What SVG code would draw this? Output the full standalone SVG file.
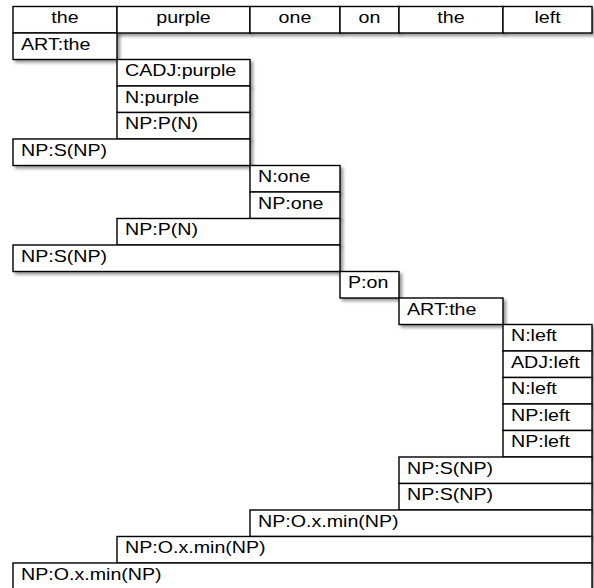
<svg xmlns="http://www.w3.org/2000/svg" width="594" height="588" viewBox="0 0 594 588">
<defs>
<filter id="sh" x="-10%" y="-30%" width="130%" height="180%">
<feDropShadow dx="2.5" dy="2.5" stdDeviation="1.6" flood-color="#000" flood-opacity="0.4"/>
</filter>
<style>
.b{fill:#fff;stroke:#000;stroke-width:1.4;filter:url(#sh)}
.t{font-family:"Liberation Sans",Arial,sans-serif;font-size:16.5px;fill:#000}
.c{text-anchor:middle}
</style>
</defs>
<rect width="594" height="588" fill="#fff"/>
<g id="header">
<g id="h1"><rect class="b" x="13" y="6.5" width="104" height="26.5"/><text class="t c" transform="translate(65,23.3) scale(1.19,1)">the</text></g>
<g id="h2"><rect class="b" x="117" y="6.5" width="133" height="26.5"/><text class="t c" transform="translate(183.5,23.3) scale(1.19,1)">purple</text></g>
<g id="h3"><rect class="b" x="250" y="6.5" width="90" height="26.5"/><text class="t c" transform="translate(295,23.3) scale(1.19,1)">one</text></g>
<g id="h4"><rect class="b" x="340" y="6.5" width="59" height="26.5"/><text class="t c" transform="translate(369.5,23.3) scale(1.19,1)">on</text></g>
<g id="h5"><rect class="b" x="399" y="6.5" width="104" height="26.5"/><text class="t c" transform="translate(451,23.3) scale(1.19,1)">the</text></g>
<g id="h6"><rect class="b" x="503" y="6.5" width="89" height="26.5"/><text class="t c" transform="translate(547.5,23.3) scale(1.19,1)">left</text></g>
</g>
<g id="n1"><rect class="b" x="13" y="33" width="104" height="26.5"/><text class="t" transform="translate(21,49.5) scale(1.19,1)">ART:the</text></g>
<g id="n2"><rect class="b" x="117" y="59.5" width="133" height="26.5"/><text class="t" transform="translate(125,76) scale(1.19,1)">CADJ:purple</text></g>
<g id="n3"><rect class="b" x="117" y="86" width="133" height="26.5"/><text class="t" transform="translate(125,102.5) scale(1.19,1)">N:purple</text></g>
<g id="n4"><rect class="b" x="117" y="112.5" width="133" height="26.5"/><text class="t" transform="translate(125,129) scale(1.19,1)">NP:P(N)</text></g>
<g id="n5"><rect class="b" x="13" y="139" width="237" height="26.5"/><text class="t" transform="translate(21,155.5) scale(1.19,1)">NP:S(NP)</text></g>
<g id="n6"><rect class="b" x="250" y="165.5" width="90" height="26.5"/><text class="t" transform="translate(258,182) scale(1.19,1)">N:one</text></g>
<g id="n7"><rect class="b" x="250" y="192" width="90" height="26.5"/><text class="t" transform="translate(258,208.5) scale(1.19,1)">NP:one</text></g>
<g id="n8"><rect class="b" x="117" y="218.5" width="223" height="26.5"/><text class="t" transform="translate(125,235) scale(1.19,1)">NP:P(N)</text></g>
<g id="n9"><rect class="b" x="13" y="245" width="327" height="26.5"/><text class="t" transform="translate(21,261.5) scale(1.19,1)">NP:S(NP)</text></g>
<g id="n10"><rect class="b" x="340" y="271.5" width="59" height="26.5"/><text class="t" transform="translate(348,288) scale(1.19,1)">P:on</text></g>
<g id="n11"><rect class="b" x="399" y="298" width="104" height="26.5"/><text class="t" transform="translate(407,314.5) scale(1.19,1)">ART:the</text></g>
<g id="n12"><rect class="b" x="503" y="324.5" width="89" height="26.5"/><text class="t" transform="translate(511,341) scale(1.19,1)">N:left</text></g>
<g id="n13"><rect class="b" x="503" y="351" width="89" height="26.5"/><text class="t" transform="translate(511,367.5) scale(1.19,1)">ADJ:left</text></g>
<g id="n14"><rect class="b" x="503" y="377.5" width="89" height="26.5"/><text class="t" transform="translate(511,394) scale(1.19,1)">N:left</text></g>
<g id="n15"><rect class="b" x="503" y="404" width="89" height="26.5"/><text class="t" transform="translate(511,420.5) scale(1.19,1)">NP:left</text></g>
<g id="n16"><rect class="b" x="503" y="430.5" width="89" height="26.5"/><text class="t" transform="translate(511,447) scale(1.19,1)">NP:left</text></g>
<g id="n17"><rect class="b" x="399" y="457" width="193" height="26.5"/><text class="t" transform="translate(407,473.5) scale(1.19,1)">NP:S(NP)</text></g>
<g id="n18"><rect class="b" x="399" y="483.5" width="193" height="26.5"/><text class="t" transform="translate(407,500) scale(1.19,1)">NP:S(NP)</text></g>
<g id="n19"><rect class="b" x="250" y="510" width="342" height="26.5"/><text class="t" transform="translate(258,526.5) scale(1.19,1)">NP:O.x.min(NP)</text></g>
<g id="n20"><rect class="b" x="117" y="536.5" width="475" height="26.5"/><text class="t" transform="translate(125,553) scale(1.19,1)">NP:O.x.min(NP)</text></g>
<g id="n21"><rect class="b" x="13" y="563" width="579" height="26.5"/><text class="t" transform="translate(21,579.5) scale(1.19,1)">NP:O.x.min(NP)</text></g>
</svg>
